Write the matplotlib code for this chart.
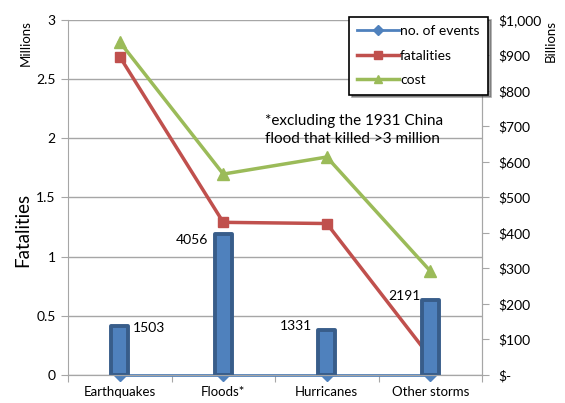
import numpy as np
import matplotlib
matplotlib.use("Agg")
import matplotlib.pyplot as plt
from matplotlib.ticker import FuncFormatter, MultipleLocator

plt.rcParams['font.family'] = ['Lato', 'DejaVu Sans']

# data
categories = ['Earthquakes', 'Floods*', 'Hurricanes', 'Other storms']
events = [1503, 4056, 1331, 2191]
event_bars = [0.41, 1.19, 0.38, 0.63]      # column heights on the left scale
fatalities = [2.69, 1.29, 1.28, 0.15]      # millions
cost = [938, 566, 614, 293]                # billions of dollars

blue = '#4f81bd'
blue_dark = '#385d8a'
red = '#c0504d'
green = '#9bbb59'
grid_c = '#a6a6a6'

fig = plt.figure(figsize=(5.65, 4.03), dpi=100)
ax = fig.add_axes([0.1204, 0.0695, 0.7327, 0.8809])
ax2 = ax.twinx()

x = np.arange(len(categories))

# fatalities behind the columns
l_fat, = ax.plot(x, fatalities, color=red, lw=2.5, marker='s', ms=7,
                 zorder=2, label='fatalities')
ax.bar(x, event_bars, width=0.16, color=blue, edgecolor=blue_dark,
       linewidth=2.8, joinstyle='round', zorder=3)
l_ev, = ax.plot(x, [0] * len(x), color=blue, lw=2, marker='D', ms=6,
                zorder=2.5, clip_on=False, label='no. of events')

# count labels (horizontal offset, alignment, vertical offset)
label_pos = [(0.13, 'left', -0.01), (-0.145, 'right', -0.05),
             (-0.145, 'right', 0.03), (-0.09, 'right', 0.04)]
for xi, h, n, (dx, ha, dy) in zip(x, event_bars, events, label_pos):
    ax.text(xi + dx, h + dy, str(n), ha=ha, va='center', fontsize=10,
            color='black', zorder=5)

l_cost, = ax2.plot(x, cost, color=green, lw=2.5, marker='^', ms=8,
                   label='cost')

ax.set_xlim(-0.5, 3.5)
ax.set_ylim(0, 3)
ax2.set_ylim(0, 1000)
ax.yaxis.set_major_locator(MultipleLocator(0.5))
ax.yaxis.set_major_formatter(FuncFormatter(lambda v, p: f'{v:g}'))
ax2.yaxis.set_major_locator(MultipleLocator(100))
ax2.yaxis.set_major_formatter(
    FuncFormatter(lambda v, p: '$-' if v == 0 else f'${v:,.0f}'))

ax.grid(axis='y', color=grid_c, lw=1)
ax.set_axisbelow(True)
ax.set_xticks(np.arange(-0.5, 4, 1), minor=False)
ax.set_xticklabels([])
ax.set_xticks(x, minor=True)
ax.set_xticklabels(categories, minor=True)
ax.tick_params(axis='x', which='major', length=5, color=grid_c, direction='out')
ax.tick_params(axis='x', which='minor', length=0, labelsize=9.5, pad=8)
ax.tick_params(axis='y', length=5, color=grid_c, labelsize=10, pad=4)
ax2.tick_params(axis='y', length=5, color=grid_c, labelsize=10, pad=7)

for a in (ax, ax2):
    a.spines['top'].set_visible(False)
    a.spines['left'].set_color(grid_c)
    a.spines['right'].set_color(grid_c)
    a.spines['bottom'].set_color(grid_c)
ax2.spines['left'].set_visible(False)

fig.text(0.045, 0.95, 'Millions', rotation=90, ha='center', va='top', fontsize=9.5)
fig.text(0.04, 0.43, 'Fatalities', rotation=90, ha='center', va='center',
         fontsize=13.5)
fig.text(0.975, 0.95, 'Billions', rotation=90, ha='center', va='top', fontsize=9.5)

ax.text(0.475, 0.69, '*excluding the 1931 China\nflood that killed >3 million',
        transform=ax.transAxes, fontsize=11, linespacing=1.4, va='center')

leg = fig.legend(handles=[l_ev, l_fat, l_cost], loc='upper left',
                 bbox_to_anchor=(0.605, 0.975), fancybox=False, shadow=True,
                 edgecolor='black', fontsize=10, handlelength=3.0,
                 handletextpad=0.1, labelspacing=0.9, borderpad=0.6,
                 markerscale=0.8)
leg.get_frame().set_linewidth(1.2)

fig.savefig('out.png', dpi=100)
